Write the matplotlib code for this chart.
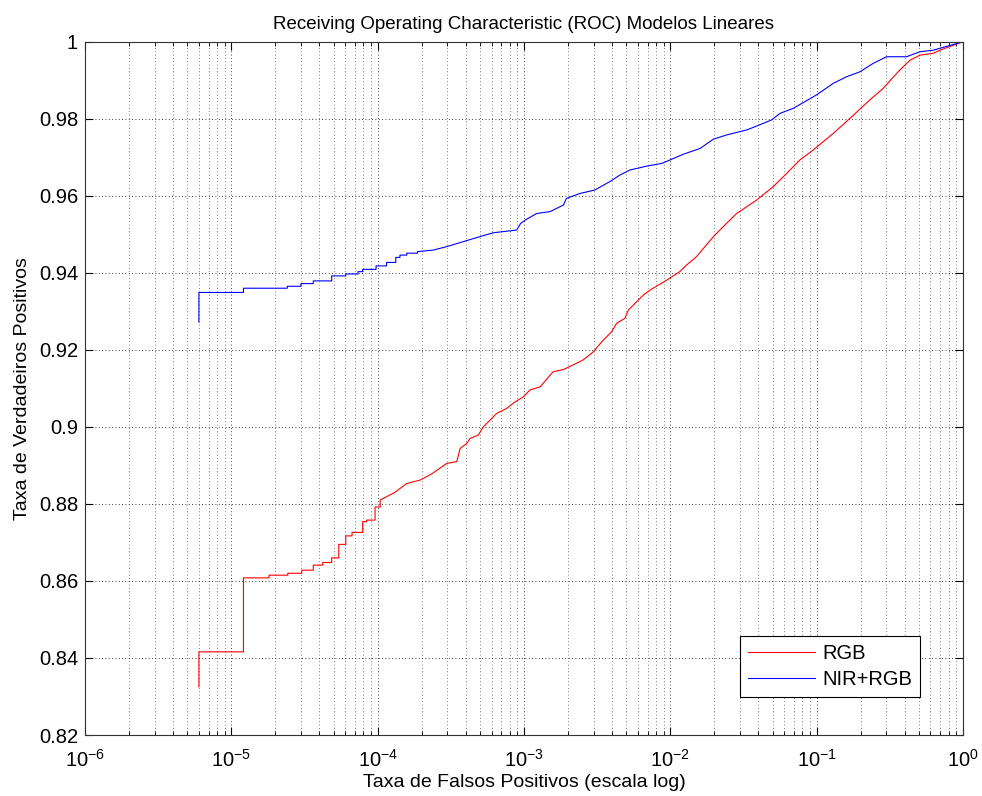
import numpy as np
import matplotlib
matplotlib.use("Agg")
import matplotlib.pyplot as plt
from matplotlib.ticker import LogLocator, MultipleLocator, NullFormatter

plt.rcParams['font.family'] = ['Liberation Sans', 'DejaVu Sans']
plt.rcParams['mathtext.fontset'] = 'custom'
plt.rcParams['mathtext.rm'] = 'Liberation Sans'

# RGB (red) - stepped part at low FPR, then the finer part
rgb_fpr_low = [6.0e-6, 6.0e-6, 1.21e-5, 1.81e-5, 2.43e-5, 3.03e-5, 3.63e-5, 4.21e-5,
               4.85e-5, 5.42e-5, 6.05e-5, 6.68e-5, 7.9e-5, 8.4e-5, 9.6e-5, 1.04e-4]
rgb_tpr_low = [0.8325, 0.8416, 0.8608, 0.8615, 0.8620, 0.8628, 0.8641, 0.8648,
               0.8660, 0.8695, 0.8717, 0.8726, 0.8754, 0.8758, 0.8792, 0.8810]
rgb_fpr = [1.31e-4, 1.42e-4, 1.58e-4, 1.95e-4, 2.34e-4, 2.96e-4, 3.47e-4, 3.66e-4,
           4.06e-4, 4.28e-4, 4.88e-4, 5.27e-4, 6.17e-4, 6.50e-4, 7.62e-4, 8.69e-4,
           9.89e-4, 1.10e-3, 1.29e-3, 1.43e-3, 1.58e-3, 1.86e-3, 2.17e-3, 2.54e-3,
           2.98e-3, 3.40e-3, 3.97e-3, 4.30e-3, 4.90e-3, 5.16e-3, 5.89e-3, 6.53e-3,
           7.26e-3, 9.44e-3, 1.16e-2, 1.29e-2, 1.51e-2, 1.97e-2, 2.30e-2, 2.84e-2,
           3.89e-2, 5.06e-2, 6.24e-2, 7.69e-2, 9.48e-2, 0.130, 0.169, 0.231, 0.285,
           0.371, 0.435, 0.508, 0.627, 0.697, 1.0]
rgb_tpr = [0.8830, 0.8840, 0.8853, 0.8862, 0.8878, 0.8905, 0.8910, 0.8944,
           0.8957, 0.8970, 0.8979, 0.9000, 0.9026, 0.9035, 0.9048, 0.9065,
           0.9078, 0.9096, 0.9104, 0.9124, 0.9143, 0.9149, 0.9161, 0.9174,
           0.9195, 0.9221, 0.9247, 0.9269, 0.9282, 0.9303, 0.9325, 0.9342,
           0.9355, 0.9381, 0.9403, 0.9420, 0.9442, 0.9494, 0.9520, 0.9554,
           0.9589, 0.9624, 0.9658, 0.9693, 0.9719, 0.9762, 0.9801, 0.9849, 0.9879,
           0.9927, 0.9952, 0.9965, 0.9970, 0.9978, 1.0]

# NIR+RGB (blue)
nir_fpr_low = [6.0e-6, 6.0e-6, 1.21e-5, 2.41e-5, 2.99e-5, 3.63e-5, 4.85e-5, 6.05e-5,
               7.34e-5, 7.9e-5, 9.75e-5, 1.15e-4, 1.33e-4, 1.42e-4, 1.58e-4, 1.87e-4]
nir_tpr_low = [0.9272, 0.9349, 0.9360, 0.9365, 0.9372, 0.9379, 0.9392, 0.9397,
               0.9403, 0.9409, 0.9418, 0.9427, 0.9440, 0.9446, 0.9451, 0.9455]
nir_fpr = [2.40e-4, 2.96e-4, 3.85e-4, 5.00e-4, 6.17e-4, 8.91e-4, 9.48e-4, 1.04e-3,
           1.22e-3, 1.51e-3, 1.86e-3, 1.95e-3, 2.41e-3, 3.05e-3, 3.87e-3, 4.53e-3,
           5.30e-3, 6.90e-3, 8.73e-3, 9.95e-3, 1.23e-2, 1.60e-2, 1.97e-2, 2.43e-2,
           3.33e-2, 3.89e-2, 4.93e-2, 5.62e-2, 6.92e-2, 8.11e-2, 0.100, 0.130, 0.160,
           0.198, 0.244, 0.301, 0.412, 0.508, 0.627, 1.0]
nir_tpr = [0.9459, 0.9468, 0.9481, 0.9494, 0.9504, 0.9511, 0.9528, 0.9539,
           0.9554, 0.9559, 0.9576, 0.9593, 0.9606, 0.9615, 0.9637, 0.9654,
           0.9667, 0.9677, 0.9684, 0.9693, 0.9708, 0.9723, 0.9747, 0.9758,
           0.9771, 0.9781, 0.9797, 0.9814, 0.9827, 0.9842, 0.9862, 0.9892, 0.9909,
           0.9922, 0.9944, 0.9961, 0.9961, 0.9974, 0.9978, 1.0]


def stepped(x, y):
    xs, ys = [x[0]], [y[0]]
    for i in range(1, len(x)):
        xs += [x[i], x[i]]
        ys += [y[i - 1], y[i]]
    return xs, ys


fig = plt.figure(figsize=(9.82, 7.96), dpi=100)
ax = fig.add_axes([0.0866, 0.0766, 0.894, 0.871])

xs, ys = stepped(rgb_fpr_low, rgb_tpr_low)
ax.plot(xs + rgb_fpr, ys + rgb_tpr, color='#ff0000', lw=0.8, label='RGB')
xs, ys = stepped(nir_fpr_low, nir_tpr_low)
ax.plot(xs + nir_fpr, ys + nir_tpr, color='#0000ff', lw=0.8, label='NIR+RGB')

ax.set_xscale('log')
ax.set_xlim(1e-6, 1)
ax.set_ylim(0.82, 1.0)
ax.xaxis.set_major_locator(LogLocator(base=10, numticks=10))
ax.xaxis.set_minor_locator(LogLocator(base=10, subs=np.arange(2, 10), numticks=100))
ax.xaxis.set_minor_formatter(NullFormatter())
ax.yaxis.set_major_locator(MultipleLocator(0.02))
ax.yaxis.set_major_formatter(plt.FuncFormatter(lambda v, p: ('%.2f' % v).rstrip('0').rstrip('.')))

ax.grid(True, which='major', linestyle=(0, (1, 3)), color='black', lw=0.6)
ax.grid(True, which='minor', axis='x', linestyle=(0, (1, 3)), color='#555555', lw=0.6)
ax.tick_params(which='both', direction='in', top=True, right=True, labelsize=14.5, colors='black')
ax.tick_params(which='major', length=6, width=0.8)
ax.tick_params(which='minor', length=3, width=0.6)
ax.tick_params(axis='x', pad=10)
ax.tick_params(axis='y', pad=5)
for s in ax.spines.values():
    s.set_linewidth(0.8)
    s.set_color('#333333')

ax.set_title('Receiving Operating Characteristic (ROC) Modelos Lineares', fontsize=13.5, pad=9)
ax.set_xlabel('Taxa de Falsos Positivos (escala log)', fontsize=14, labelpad=2)
ax.set_ylabel('Taxa de Verdadeiros Positivos', fontsize=14, labelpad=6)

leg = ax.legend(loc='lower right', bbox_to_anchor=(0.951, 0.0552), borderaxespad=0,
                fontsize=14.5, fancybox=False, framealpha=1, edgecolor='black',
                handlelength=3.3, borderpad=0.4, labelspacing=0.35, handletextpad=0.35)
leg.get_frame().set_linewidth(0.8)

fig.savefig('out.png', dpi=100)
